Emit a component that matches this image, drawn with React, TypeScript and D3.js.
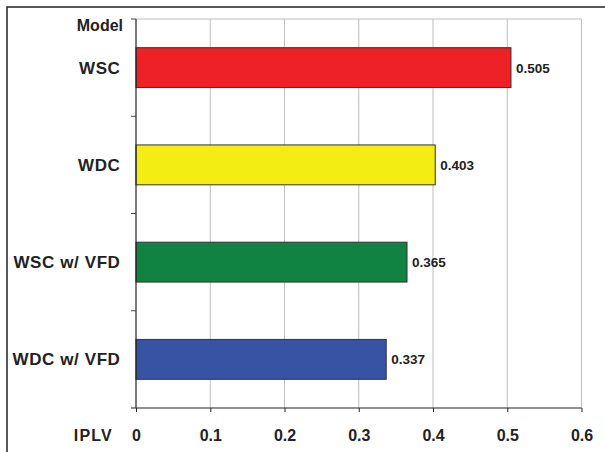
import * as d3 from 'd3';
import React, { useEffect, useRef } from 'react';

const models = ['WSC', 'WDC', 'WSC w/ VFD', 'WDC w/ VFD'];
const iplv = [0.505, 0.403, 0.365, 0.337];
const barColors = ['#ED2126', '#F5EC13', '#108241', '#3853A4'];
const xTicks = [0, 0.1, 0.2, 0.3, 0.4, 0.5, 0.6];

const App: React.FC = () => {
    const svgRef = useRef<SVGSVGElement>(null);

    useEffect(() => {
        if (!svgRef.current) return;
        d3.select(svgRef.current).selectAll('*').remove();

        const width = 605;
        const height = 452;
        const left = 136;
        const right = 581.5;
        const top = 19;
        const bottom = 408;
        const font = 'Liberation Sans, Arial, sans-serif';

        const svg = d3.select(svgRef.current)
            .attr('width', width)
            .attr('height', height)
            .style('display', 'block');

        // Outer frame (runs off the right and bottom edges)
        svg.append('rect')
            .attr('x', 7)
            .attr('y', 7)
            .attr('width', 620)
            .attr('height', 470)
            .attr('fill', '#fff')
            .attr('stroke', '#222')
            .attr('stroke-width', 1.5);

        const x = d3.scaleLinear().domain([0, 0.6]).range([left, right]);
        const y = d3.scaleBand().domain(models).range([top, bottom]).paddingInner(0.59).paddingOuter(0.295);
        const yBands = d3.scaleBand().domain(models).range([top, bottom]);

        // Gridlines
        svg.append('g')
            .selectAll('line')
            .data(xTicks.slice(1))
            .join('line')
            .attr('x1', d => x(d))
            .attr('x2', d => x(d))
            .attr('y1', top)
            .attr('y2', bottom)
            .attr('stroke', '#bdbdbd')
            .attr('stroke-width', 1);

        svg.append('line')
            .attr('x1', left)
            .attr('x2', right)
            .attr('y1', top)
            .attr('y2', top)
            .attr('stroke', '#bdbdbd');

        // Bars
        svg.append('g')
            .selectAll('rect')
            .data(models)
            .join('rect')
            .attr('x', x(0))
            .attr('y', d => y(d)!)
            .attr('width', (d, i) => x(iplv[i]) - x(0))
            .attr('height', y.bandwidth())
            .attr('fill', (d, i) => barColors[i])
            .attr('stroke', '#333')
            .attr('stroke-width', 1);

        // Value labels
        svg.append('g')
            .selectAll('text')
            .data(models)
            .join('text')
            .attr('x', (d, i) => x(iplv[i]) + 5)
            .attr('y', d => y(d)! + y.bandwidth() / 2 + 5)
            .attr('font-family', font)
            .attr('font-size', 13.5)
            .attr('font-weight', 'bold')
            .attr('fill', '#222')
            .text((d, i) => iplv[i].toFixed(3));

        // Y axis
        svg.append('line')
            .attr('x1', left)
            .attr('x2', left)
            .attr('y1', top)
            .attr('y2', bottom)
            .attr('stroke', '#222')
            .attr('stroke-width', 1.2);

        const boundaries = [top, ...models.slice(1).map(m => yBands(m)!)];
        svg.append('g')
            .selectAll('line')
            .data(boundaries)
            .join('line')
            .attr('x1', left - 5)
            .attr('x2', left)
            .attr('y1', d => d)
            .attr('y2', d => d)
            .attr('stroke', '#444');

        svg.append('g')
            .selectAll('text')
            .data(models)
            .join('text')
            .attr('x', 120.5)
            .attr('y', d => y(d)! + y.bandwidth() / 2 + 6)
            .attr('text-anchor', 'end')
            .attr('font-family', font)
            .attr('font-size', 17)
            .attr('letter-spacing', 0.6)
            .attr('font-weight', 'bold')
            .attr('fill', '#222')
            .text(d => d);

        svg.append('text')
            .attr('x', 123)
            .attr('y', 31)
            .attr('text-anchor', 'end')
            .attr('font-family', font)
            .attr('font-size', 16)
            .attr('font-weight', 'bold')
            .attr('fill', '#222')
            .text('Model');

        // X axis
        const xAxis = svg.append('g')
            .attr('transform', `translate(0,${bottom})`)
            .call(d3.axisBottom(x).tickValues(xTicks).tickSize(4).tickFormat(d => `${d}`));
        xAxis.select('.domain')
            .attr('stroke', '#222')
            .attr('stroke-width', 1.2)
            .attr('d', `M${left - 5},0H${right}`);
        xAxis.selectAll('.tick line').attr('stroke', '#222');
        xAxis.selectAll('.tick text')
            .attr('y', 33)
            .attr('dy', '0')
            .attr('font-family', font)
            .attr('font-size', 16)
            .attr('font-weight', 'bold')
            .attr('fill', '#222');

        svg.append('text')
            .attr('x', 113)
            .attr('y', bottom + 33)
            .attr('text-anchor', 'end')
            .attr('font-family', font)
            .attr('font-size', 16)
            .attr('letter-spacing', 1.2)
            .attr('font-weight', 'bold')
            .attr('fill', '#222')
            .text('IPLV');
    }, []);

    return (
        <div style={{ position: 'absolute', left: 0, top: 0 }}>
            <svg ref={svgRef}></svg>
        </div>
    );
};

export default App;
